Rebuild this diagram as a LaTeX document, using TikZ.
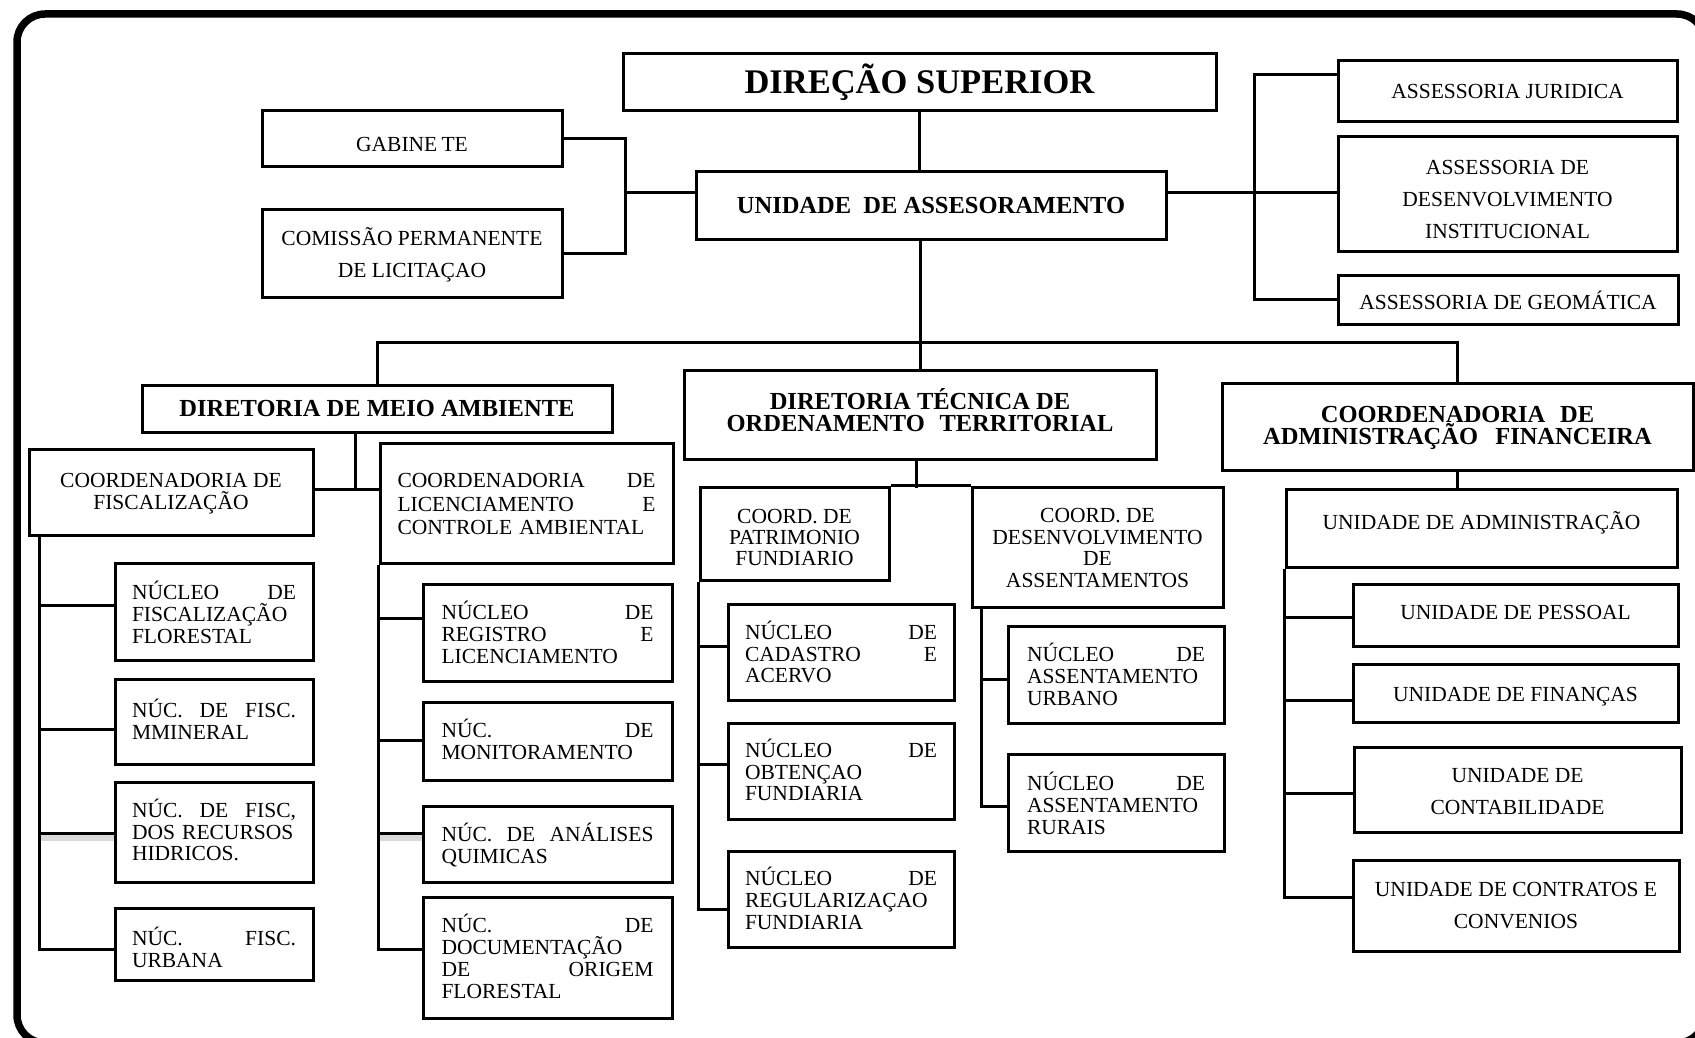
\documentclass[tikz,border=0pt]{standalone}
\usepackage{fontspec}
\setmainfont{Liberation Serif}
\hyphenpenalty=10000
\exhyphenpenalty=10000
\newcommand\orgbox[7]{\node[#6, minimum width={#4-#2}, minimum height={#5-#3}] (#1) at ({(#2+#4)/2},{(#3+#5)/2}) {#7};}
\tikzset{
  box/.style={draw, line width=3pt, inner sep=0pt},
  reg/.style={box, align=center, font=\fontsize{21.5}{21.5}\selectfont},
  wide/.style={box, align=center, font=\fontsize{21.5}{32}\selectfont},
  head/.style={box, align=center, font=\bfseries\fontsize{24.5}{22.7}\selectfont},
  jus/.style={box, align=left, text width=#1, font=\fontsize{21.5}{21.8}\selectfont},
  % tv={lines}{baselineskip}{cap height}{downward offset}: text boxes whose baseline is the first line
  tv/.style n args={4}{/utils/exec={\pgfmathsetmacro\tvh{#3+2*(#4)}\pgfmathsetmacro\tvd{(#1-1)*(#2)}},
    text height=\tvh pt, text depth=\tvd pt},
  % tvc: same, for centred text whose baseline is the last line
  tvc/.style n args={4}{/utils/exec={\pgfmathsetmacro\tvh{(#1-1)*(#2)+#3+2*(#4)}},
    text height=\tvh pt, text depth=0pt},
  conn/.style={line width=3pt},
  shade/.style={line width=6pt, black!15},
}
\begin{document}
\begin{tikzpicture}[x=1pt,y=-1pt]
\useasboundingbox (0,0) rectangle (1695,1038);
\fill[white] (0,0) rectangle (1695,1038);
\draw[line width=7.5pt, rounded corners=28pt] (17,14) rectangle (1705,1043);

% top level
\orgbox{ds}{623}{54}{1216}{111}{box, font=\bfseries\fontsize{34.5}{34.5}\selectfont, tvc={1}{0}{22.8}{0}}{DIREÇÃO SUPERIOR}
\orgbox{ua}{696}{172}{1166}{239}{head, tvc={1}{0}{16.2}{0}}{UNIDADE\hspace{0.5em}DE ASSESORAMENTO}
\orgbox{gab}{262}{111}{562}{167}{reg, tvc={1}{0}{14.2}{5}}{GABINE\hspace{0.2em}TE}
\orgbox{com}{262}{209}{562}{297}{wide, tvc={2}{32}{14.2}{1}}{COMISSÃO PERMANENTE\\DE LICITAÇAO}
\orgbox{aj}{1338}{61}{1677}{122}{reg, tvc={1}{0}{14.2}{0}}{ASSESSORIA JURIDICA}
\orgbox{adi}{1338}{137}{1677}{251}{wide, tvc={3}{32}{14.2}{5}}{ASSESSORIA DE\\DESENVOLVIMENTO\\INSTITUCIONAL}
\orgbox{ag}{1338}{275}{1678}{324}{reg, tvc={1}{0}{14.2}{3}}{ASSESSORIA DE GEOMÁTICA}

% directorates
\orgbox{dma}{142}{385}{612}{432}{head, tvc={1}{0}{16.2}{0}}{DIRETORIA DE MEIO AMBIENTE}
\orgbox{dt}{684}{370}{1156}{459}{head, tvc={2}{22.7}{16.2}{-2}}{DIRETORIA TÉCNICA DE\\ORDENAMENTO\hspace{0.6em}TERRITORIAL}
\orgbox{caf}{1222}{383}{1693}{470}{head, tvc={2}{22.7}{16.2}{-1}}{COORDENADORIA\hspace{0.6em}DE\\ADMINISTRAÇÃO\hspace{0.7em}FINANCEIRA}

% meio ambiente
\orgbox{cf}{29}{449}{313}{535}{box, align=center, font=\fontsize{21.5}{22}\selectfont, tvc={2}{22}{14.2}{-0.5}}{COORDENADORIA DE\\FISCALIZAÇÃO}
\orgbox{cl}{380}{443}{673}{563}{box, align=left, text width=258, font=\fontsize{21.5}{23.5}\selectfont, tv={3}{23.5}{14.2}{1.3}}{COORDENADORIA\hfill DE\\LICENCIAMENTO\hfill E\\CONTROLE AMBIENTAL}
\orgbox{f1}{115}{563}{313}{660}{jus=164, tv={3}{21.8}{14.2}{3}}{NÚCLEO\hfill DE\\FISCALIZAÇÃO\\FLORESTAL}
\orgbox{f2}{115}{679}{313}{764}{jus=164, tv={2}{21.8}{14.2}{0}}{NÚC.\hfill DE\hfill FISC.\\MMINERAL}
\orgbox{f3}{115}{782}{313}{882}{jus=164, tv={3}{21.8}{14.2}{0}}{NÚC.\hfill DE\hfill FISC,\\DOS RECURSOS\\HIDRICOS.}
\orgbox{f4}{115}{908}{313}{980}{jus=164, tv={2}{21.8}{14.2}{5.5}}{NÚC.\hfill FISC.\\URBANA}
\orgbox{l1}{423}{584}{672}{681}{jus=212, tv={3}{21.8}{14.2}{2}}{NÚCLEO\hfill DE\\REGISTRO\hfill E\\LICENCIAMENTO}
\orgbox{l2}{423}{702}{672}{780}{jus=212, tv={2}{21.8}{14.2}{0}}{NÚC.\hfill DE\\MONITORAMENTO}
\orgbox{l3}{423}{806}{672}{882}{jus=212, tv={2}{21.8}{14.2}{1.3}}{NÚC.\hfill DE\hfill ANÁLISES\\QUIMICAS}
\orgbox{l4}{423}{897}{672}{1018}{jus=212, tv={4}{21.8}{14.2}{1}}{NÚC.\hfill DE\\DOCUMENTAÇÃO\\DE\hfill ORIGEM\\FLORESTAL}

% ordenamento territorial
\orgbox{cp}{700}{487}{889}{580}{box, align=center, font=\fontsize{21.5}{21}\selectfont, tvc={3}{21}{14.2}{3.5}}{COORD. DE\\PATRIMONIO\\FUNDIARIO}
\orgbox{cds}{972}{487}{1223}{607}{reg, tvc={4}{21.5}{14.2}{1}}{COORD. DE\\DESENVOLVIMENTO\\DE\\ASSENTAMENTOS}
\orgbox{p1}{728}{604}{954}{700}{jus=192, tv={3}{21.8}{14.2}{2}}{NÚCLEO\hfill DE\\CADASTRO\hfill E\\ACERVO}
\orgbox{p2}{728}{723}{954}{819}{jus=192, tv={3}{21.8}{14.2}{1}}{NÚCLEO\hfill DE\\OBTENÇAO\\FUNDIARIA}
\orgbox{p3}{728}{851}{954}{947}{jus=192, tv={3}{21.8}{14.2}{1.5}}{NÚCLEO\hfill DE\\REGULARIZAÇAO\\FUNDIARIA}
\orgbox{u1}{1008}{626}{1224}{723}{jus=178, tv={3}{21.8}{14.2}{2}}{NÚCLEO\hfill DE\\ASSENTAMENTO\\URBANO}
\orgbox{u2}{1008}{754}{1224}{851}{jus=178, tv={3}{21.8}{14.2}{2.8}}{NÚCLEO\hfill DE\\ASSENTAMENTO\\RURAIS}

% administracao financeira
\orgbox{uadm}{1286}{489}{1677}{567}{reg, tvc={1}{0}{14.2}{-6}}{UNIDADE DE ADMINISTRAÇÃO}
\orgbox{ue1}{1353}{584}{1678}{646}{reg, tvc={1}{0}{14.2}{-3}}{UNIDADE DE PESSOAL}
\orgbox{ue2}{1353}{664}{1678}{722}{reg, tvc={1}{0}{14.2}{1}}{UNIDADE DE FINANÇAS}
\orgbox{ue3}{1354}{747}{1681}{832}{wide, tvc={2}{32}{14.2}{2}}{UNIDADE DE\\CONTABILIDADE}
\orgbox{ue4}{1353}{860}{1679}{951}{wide, tvc={2}{32}{14.2}{0}}{UNIDADE DE CONTRATOS E\\CONVENIOS}

% connectors: top
\coordinate (bl) at (625,192);
\draw[conn] (gab.east) -| (bl);
\draw[conn] (com.east) -| (bl);
\draw[conn] (bl) -- (bl -| ua.west);
\coordinate (br) at (1254,192);
\draw[conn] (ua.east |- br) -- (br -| adi.west);
\coordinate (brt) at (1254,75);
\draw[conn] (brt -| aj.west) -- (brt) |- (ag.west);

% trunk and bus
\coordinate (bus) at (920,342);
\draw[conn] (ds.south) -- (ds.south |- ua.north);
\draw[conn] (bus |- ua.south) -- (bus) -- (dt.north);
\draw[conn] (dma.north) |- (bus) -| (caf.north);

% meio ambiente
\coordinate (dmj) at (355,489);
\draw[conn] (dmj |- dma.south) -- (dmj);
\draw[conn] (dmj -| cf.east) -- (dmj -| cl.west);
\coordinate (cfv) at ([xshift=12pt]cf.south west);
\draw[shade] (cfv |- 0,838) -- (f3.west |- 0,838);
\draw[shade] (cl.south west |- 0,838) -- (l3.west |- 0,838);
\draw[conn] (cfv) |- (f4.west |- 0,949);
\foreach \n/\y in {f1/605, f2/729, f3/833}
  \draw[conn] (cfv |- 0,\y) -- (\n.west |- 0,\y);
\draw[conn] (cl.south west) |- (l4.west |- 0,949);
\foreach \n/\y in {l1/618, l2/740, l3/833}
  \draw[conn] (cl.south west |- 0,\y) -- (\n.west |- 0,\y);

% ordenamento
\coordinate (dtj) at (916,488);
\draw[conn] (dtj |- dt.south) -- (dtj);
\draw[conn] (cp.north east) -- (cds.north west);
\draw[conn] (cp.south west) |- (p3.west |- 0,909);
\foreach \n/\y in {p1/646, p2/764}
  \draw[conn] (cp.south west |- 0,\y) -- (\n.west |- 0,\y);
\coordinate (cdv) at ([xshift=11pt]cds.south west);
\draw[conn] (cdv) |- (u2.west |- 0,806);
\draw[conn] (cdv |- 0,679) -- (u1.west |- 0,679);

% administracao
\draw[conn] (caf.south) -- (caf.south |- uadm.north);
\draw[conn] (uadm.south west) |- (ue4.west |- 0,897);
\foreach \n/\y in {ue1/617, ue2/700, ue3/793}
  \draw[conn] (uadm.south west |- 0,\y) -- (\n.west |- 0,\y);
\end{tikzpicture}
\end{document}
